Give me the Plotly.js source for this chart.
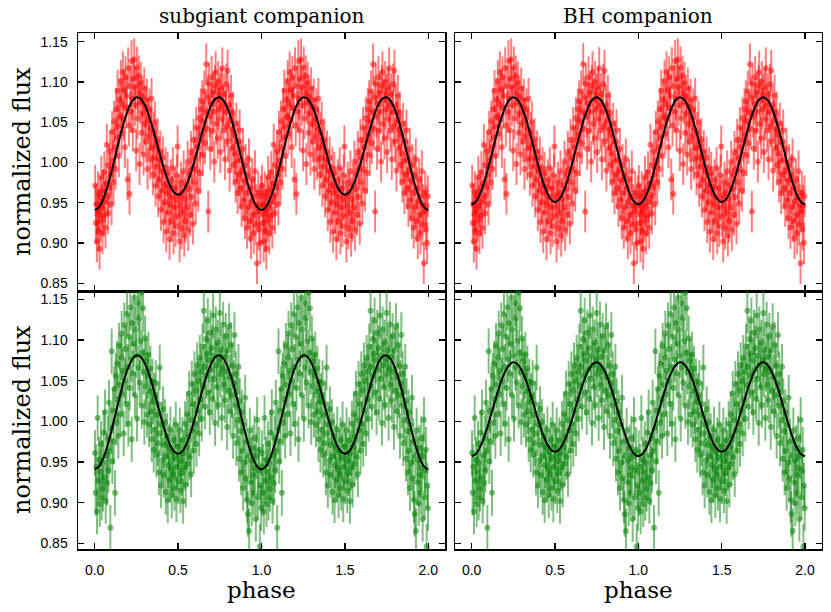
<!DOCTYPE html>
<html>
<head>
<meta charset="utf-8">
<script src="https://cdn.plot.ly/plotly-3.0.1.min.js"></script>
<style>
  html, body { margin: 0; padding: 0; background: #fff; }
  #graph { width: 831px; height: 612px; }
</style>
</head>
<body>
<div id="graph"></div>
<script>
// phase-folded light curves, one cycle (0..1), drawn twice (0..2)
const redPhase = [
  0.003,0.007,0.010,0.013,0.016,0.020,0.023,0.026,0.029,0.033,
  0.036,0.040,0.043,0.047,0.050,0.054,0.058,0.061,0.065,0.069,
  0.073,0.077,0.081,0.085,0.089,0.093,0.097,0.101,0.105,0.109,
  0.113,0.117,0.121,0.125,0.129,0.133,0.137,0.141,0.145,0.149,
  0.153,0.157,0.161,0.165,0.169,0.173,0.177,0.181,0.185,0.189,
  0.193,0.197,0.201,0.205,0.209,0.213,0.217,0.221,0.225,0.229,
  0.233,0.237,0.241,0.245,0.249,0.253,0.257,0.261,0.265,0.269,
  0.273,0.277,0.281,0.285,0.289,0.293,0.297,0.301,0.305,0.309,
  0.313,0.317,0.321,0.325,0.329,0.333,0.337,0.341,0.345,0.349,
  0.353,0.357,0.361,0.365,0.369,0.373,0.377,0.381,0.385,0.389,
  0.393,0.397,0.401,0.405,0.409,0.413,0.417,0.421,0.425,0.429,
  0.433,0.437,0.441,0.445,0.449,0.453,0.457,0.461,0.465,0.469,
  0.473,0.477,0.481,0.485,0.489,0.493,0.497,0.501,0.505,0.509,
  0.513,0.517,0.521,0.525,0.529,0.533,0.537,0.541,0.545,0.549,
  0.553,0.557,0.561,0.565,0.569,0.573,0.577,0.581,0.585,0.589,
  0.593,0.597,0.601,0.605,0.609,0.613,0.617,0.621,0.625,0.629,
  0.633,0.637,0.641,0.645,0.649,0.653,0.657,0.661,0.665,0.669,
  0.673,0.677,0.681,0.685,0.689,0.693,0.697,0.701,0.705,0.709,
  0.713,0.717,0.721,0.725,0.729,0.733,0.737,0.741,0.745,0.749,
  0.753,0.757,0.761,0.765,0.769,0.773,0.777,0.781,0.785,0.789,
  0.793,0.797,0.801,0.805,0.809,0.813,0.817,0.821,0.825,0.829,
  0.833,0.837,0.841,0.845,0.849,0.853,0.857,0.861,0.865,0.869,
  0.873,0.877,0.881,0.885,0.889,0.893,0.897,0.901,0.905,0.909,
  0.913,0.917,0.921,0.925,0.929,0.933,0.937,0.941,0.945,0.949,
  0.953,0.957,0.961,0.965,0.969,0.973,0.977,0.981,0.985,0.989,
  0.993,0.997
];
const redFlux = [
  0.971,0.925,0.948,0.902,0.936,0.963,0.915,0.941,0.893,0.957,
  0.928,0.982,0.946,0.912,0.965,0.934,0.988,0.951,0.919,0.974,
  1.022,0.958,0.937,0.996,0.969,1.014,0.985,0.948,1.038,1.002,
  0.975,1.051,1.019,0.992,1.066,1.031,1.089,1.045,1.008,1.078,
  1.057,1.101,1.036,1.072,1.112,1.053,1.090,1.019,1.106,1.068,
  1.083,0.979,1.117,1.046,0.961,1.095,1.063,1.126,1.079,1.040,
  1.104,1.128,1.071,1.093,1.015,1.118,1.055,1.086,1.107,0.998,
  1.074,1.099,1.037,1.082,1.061,1.010,1.092,1.048,1.069,1.026,
  1.078,0.992,1.054,1.033,1.066,1.004,1.041,1.079,1.018,0.985,
  1.037,1.006,1.050,0.971,1.021,0.995,1.029,0.958,1.003,0.978,
  1.014,0.941,0.989,0.965,1.006,0.926,0.972,0.951,0.993,0.914,
  0.962,0.987,0.938,0.969,0.905,0.948,0.978,0.927,0.957,0.993,
  0.912,0.944,0.968,0.921,0.953,0.984,1.020,0.933,0.959,0.902,
  0.946,0.975,0.918,0.962,0.938,0.989,0.909,0.955,0.927,0.972,
  0.944,1.001,0.916,0.967,0.985,0.935,1.013,0.957,0.992,0.924,
  1.028,0.976,1.006,0.949,1.043,0.991,1.019,0.965,1.055,1.027,
  0.987,1.066,1.035,1.076,1.009,1.051,1.088,1.024,1.062,1.122,
  1.042,1.081,0.939,1.098,1.057,1.017,1.073,1.106,1.039,1.087,
  1.063,1.001,1.095,1.112,1.048,1.078,1.030,1.100,1.066,1.084,
  1.013,1.092,1.054,1.117,1.071,1.040,1.085,1.004,1.063,1.097,
  1.045,1.114,1.026,1.071,0.990,1.052,1.083,1.018,1.041,1.062,
  0.997,1.034,1.011,0.976,1.048,1.002,0.962,1.026,0.985,1.040,
  0.968,1.003,0.946,0.989,1.017,0.953,0.978,0.931,0.997,0.962,
  0.919,0.984,0.945,1.004,0.927,0.968,0.906,0.952,0.979,0.935,
  0.912,0.958,0.989,0.923,0.947,0.875,0.939,0.963,0.917,0.946,
  0.900,0.958
];
const redErr = 0.026;

const greenPhase = [
  0.002,0.006,0.010,0.014,0.018,0.022,0.026,0.030,0.034,0.038,
  0.042,0.046,0.050,0.054,0.058,0.062,0.066,0.070,0.074,0.078,
  0.082,0.086,0.090,0.094,0.098,0.102,0.106,0.110,0.114,0.118,
  0.122,0.126,0.130,0.134,0.138,0.142,0.146,0.150,0.154,0.158,
  0.162,0.166,0.170,0.174,0.178,0.182,0.186,0.190,0.194,0.198,
  0.202,0.206,0.210,0.214,0.218,0.222,0.226,0.230,0.234,0.238,
  0.242,0.246,0.250,0.254,0.258,0.262,0.266,0.270,0.274,0.278,
  0.282,0.286,0.290,0.294,0.298,0.302,0.306,0.310,0.314,0.318,
  0.322,0.326,0.330,0.334,0.338,0.342,0.346,0.350,0.354,0.358,
  0.362,0.366,0.370,0.374,0.378,0.382,0.386,0.390,0.394,0.398,
  0.402,0.406,0.410,0.414,0.418,0.422,0.426,0.430,0.434,0.438,
  0.442,0.446,0.450,0.454,0.458,0.462,0.466,0.470,0.474,0.478,
  0.482,0.486,0.490,0.494,0.498,0.502,0.506,0.510,0.514,0.518,
  0.522,0.526,0.530,0.534,0.538,0.542,0.546,0.550,0.554,0.558,
  0.562,0.566,0.570,0.574,0.578,0.582,0.586,0.590,0.594,0.598,
  0.602,0.606,0.610,0.614,0.618,0.622,0.626,0.630,0.634,0.638,
  0.642,0.646,0.650,0.654,0.658,0.662,0.666,0.670,0.674,0.678,
  0.682,0.686,0.690,0.694,0.698,0.702,0.706,0.710,0.714,0.718,
  0.722,0.726,0.730,0.734,0.738,0.742,0.746,0.750,0.754,0.758,
  0.762,0.766,0.770,0.774,0.778,0.782,0.786,0.790,0.794,0.798,
  0.802,0.806,0.810,0.814,0.818,0.822,0.826,0.830,0.834,0.838,
  0.842,0.846,0.850,0.854,0.858,0.862,0.866,0.870,0.874,0.878,
  0.882,0.886,0.890,0.894,0.898,0.902,0.906,0.910,0.914,0.918,
  0.922,0.926,0.930,0.934,0.938,0.942,0.946,0.950,0.954,0.958,
  0.962,0.966,0.970,0.974,0.978,0.982,0.986,0.990,0.994,0.998
];
const greenFlux = [
  0.961,0.912,0.944,0.889,1.004,0.927,0.953,0.898,0.938,0.972,
  0.906,0.949,0.917,0.986,0.931,1.011,0.902,0.958,0.924,0.979,
  0.940,1.023,0.963,0.869,0.992,1.086,0.951,1.013,0.975,1.040,
  0.912,1.056,0.998,1.071,1.027,0.982,1.093,1.045,1.009,1.078,
  1.108,1.033,1.062,0.985,1.118,1.050,1.089,1.021,1.132,1.067,
  0.997,1.104,1.041,1.140,1.076,0.978,1.121,1.059,1.095,1.152,
  1.032,1.113,1.081,1.003,1.145,1.066,1.127,1.048,1.098,1.158,
  1.019,1.084,1.139,1.061,0.999,1.102,1.043,1.074,1.008,1.056,
  1.082,0.996,1.037,1.065,1.012,0.978,1.049,1.024,0.965,1.031,
  0.990,1.047,0.959,1.008,0.973,1.021,0.937,1.066,0.985,0.921,
  0.996,0.952,1.015,0.934,0.971,0.999,0.913,0.957,0.982,0.903,
  0.946,0.968,0.928,0.990,0.941,0.909,0.962,0.935,0.977,0.918,
  0.955,0.996,0.904,0.944,0.969,0.926,0.958,0.989,0.915,0.951,
  0.936,0.977,0.902,0.961,0.943,0.997,0.922,0.968,1.009,0.948,
  0.981,1.034,0.956,1.002,0.935,1.046,0.989,1.021,0.964,1.058,
  0.997,1.038,0.972,1.069,1.014,1.049,0.985,1.078,1.027,1.061,
  1.003,1.092,1.044,1.136,1.067,1.018,1.101,1.056,1.083,1.124,
  1.035,1.075,1.011,1.109,1.063,1.090,1.028,1.130,1.052,1.081,
  0.998,1.113,1.069,1.042,1.097,1.020,1.076,1.133,1.058,1.088,
  1.004,1.065,1.119,1.045,1.079,1.026,1.105,1.061,0.993,1.087,
  1.038,1.117,1.054,1.012,1.094,1.032,1.068,0.982,1.047,1.106,
  1.019,1.058,0.973,1.036,1.002,1.067,0.954,1.025,0.988,0.937,
  1.011,0.964,0.918,0.996,0.949,1.029,0.930,0.975,0.903,0.886,
  0.958,0.865,0.989,0.925,0.952,0.899,0.967,0.934,0.912,0.979,
  0.943,0.880,0.957,1.002,0.907,0.939,0.965,0.846,0.921,0.893
];
const greenErr = 0.028;

// model light curves, one cycle
const modelPhase = [
  0.000,0.025,0.050,0.075,0.100,0.125,0.150,0.175,0.200,0.225,
  0.250,0.275,0.300,0.325,0.350,0.375,0.400,0.425,0.450,0.475,
  0.500,0.525,0.550,0.575,0.600,0.625,0.650,0.675,0.700,0.725,
  0.750,0.775,0.800,0.825,0.850,0.875,0.900,0.925,0.950,0.975,1.000
];
const subgiantModel = [
  0.9410,0.9443,0.9539,0.9689,0.9879,1.0090,1.0303,1.0498,1.0656,1.0763,
  1.0810,1.0793,1.0715,1.0584,1.0415,1.0225,1.0033,0.9859,0.9720,0.9631,
  0.9600,0.9631,0.9720,0.9859,1.0033,1.0225,1.0415,1.0584,1.0715,1.0793,
  1.0810,1.0763,1.0656,1.0498,1.0303,1.0090,0.9879,0.9689,0.9539,0.9443,0.9410
];
const bhModelRed = [
  0.9480,0.9512,0.9606,0.9753,0.9937,1.0142,1.0347,1.0532,1.0680,1.0776,
  1.0810,1.0780,1.0689,1.0546,1.0365,1.0163,0.9961,0.9779,0.9635,0.9542,
  0.9510,0.9542,0.9635,0.9779,0.9961,1.0163,1.0365,1.0546,1.0689,1.0780,
  1.0810,1.0776,1.0680,1.0532,1.0347,1.0142,0.9937,0.9753,0.9606,0.9512,0.9480
];
const bhModelGreen = [
  0.9570,0.9598,0.9679,0.9805,0.9965,1.0142,1.0319,1.0480,1.0609,1.0693,
  1.0725,1.0702,1.0626,1.0505,1.0352,1.0181,1.0010,0.9855,0.9732,0.9653,
  0.9626,0.9653,0.9732,0.9855,1.0010,1.0181,1.0352,1.0505,1.0626,1.0702,
  1.0725,1.0693,1.0609,1.0480,1.0319,1.0142,0.9965,0.9805,0.9679,0.9598,0.9570
];

const xTicks = [0, 0.5, 1, 1.5, 2];
const yTicks = [0.85, 0.90, 0.95, 1.00, 1.05, 1.10, 1.15];

// fold twice: phase 0..1 and again shifted to 1..2
function twice(phase) {
  return phase.concat(phase.map(p => p + 1));
}

function points(phase, flux, err, color, n) {
  return {
    x: twice(phase),
    y: flux.concat(flux),
    xaxis: 'x' + n, yaxis: 'y' + n,
    type: 'scatter', mode: 'markers',
    marker: { size: 6, color: color },
    error_y: { type: 'constant', value: err, color: color, thickness: 2, width: 0 },
    hoverinfo: 'skip'
  };
}

function model(curve, n) {
  return {
    x: twice(modelPhase.slice(0, -1)).concat([2]),
    y: curve.slice(0, -1).concat(curve.slice(0, -1), [curve[curve.length - 1]]),
    xaxis: 'x' + n, yaxis: 'y' + n,
    type: 'scatter', mode: 'lines',
    line: { color: '#000', width: 2, shape: 'spline', smoothing: 1 },
    hoverinfo: 'skip'
  };
}

const red = 'rgba(255,0,0,0.5)';
const green = 'rgba(0,128,0,0.5)';

const data = [
  points(redPhase, redFlux, redErr, red, ''),
  model(subgiantModel, ''),
  points(redPhase, redFlux, redErr, red, 2),
  model(bhModelRed, 2),
  points(greenPhase, greenFlux, greenErr, green, 3),
  model(subgiantModel, 3),
  points(greenPhase, greenFlux, greenErr, green, 4),
  model(bhModelGreen, 4)
];

const W = 831, H = 612;
const px = v => v / W;
const py = v => 1 - v / H;

const tickFont = { family: 'Liberation Sans, Arial, sans-serif', size: 14, color: '#000' };
const serif = 'DejaVu Serif, serif';

function xAxis(domain, anchor, labels) {
  return {
    domain: domain, anchor: anchor, range: [-0.1, 2.1],
    tickvals: xTicks, tickformat: '.1f', showticklabels: labels,
    ticks: 'inside', ticklen: 6, tickwidth: 1.2, tickcolor: '#000',
    showline: true, linewidth: 1.5, linecolor: '#000', mirror: 'allticks',
    showgrid: false, zeroline: false, tickfont: tickFont, ticklabelstandoff: 7
  };
}
function yAxis(domain, anchor, range, labels) {
  return {
    domain: domain, anchor: anchor, range: range,
    tickvals: yTicks, tickformat: '.2f', showticklabels: labels,
    ticks: 'inside', ticklen: 6, tickwidth: 1.2, tickcolor: '#000',
    showline: true, linewidth: 1.5, linecolor: '#000', mirror: 'allticks',
    showgrid: false, zeroline: false, tickfont: tickFont, ticklabelstandoff: 6
  };
}

const leftDom = [px(78), px(445)];
const rightDom = [px(455), px(821.7)];
const topDom = [py(291), py(33)];
const botDom = [py(549.3), py(291)];

const layout = {
  width: W, height: H,
  margin: { l: 0, r: 0, t: 0, b: 0 },
  paper_bgcolor: '#fff', plot_bgcolor: '#fff',
  showlegend: false,
  xaxis: xAxis(leftDom, 'y', false),
  yaxis: yAxis(topDom, 'x', [0.8404, 1.1608], true),
  xaxis2: xAxis(rightDom, 'y2', false),
  yaxis2: yAxis(topDom, 'x2', [0.8404, 1.1608], false),
  xaxis3: xAxis(leftDom, 'y3', true),
  yaxis3: yAxis(botDom, 'x3', [0.8426, 1.1602], true),
  xaxis4: xAxis(rightDom, 'y4', true),
  yaxis4: yAxis(botDom, 'x4', [0.8426, 1.1602], false),
  annotations: [
    { text: 'subgiant companion', xref: 'paper', yref: 'paper', x: px(261.5), y: py(30),
      xanchor: 'center', yanchor: 'bottom', showarrow: false, font: { family: serif, size: 20, color: '#000' } },
    { text: 'BH companion', xref: 'paper', yref: 'paper', x: px(638.4), y: py(30),
      xanchor: 'center', yanchor: 'bottom', showarrow: false, font: { family: serif, size: 20, color: '#000' } },
    { text: 'normalized flux', xref: 'paper', yref: 'paper', x: px(22), y: py(162),
      xanchor: 'center', yanchor: 'middle', textangle: -90, showarrow: false, font: { family: serif, size: 24, color: '#000' } },
    { text: 'normalized flux', xref: 'paper', yref: 'paper', x: px(22), y: py(420),
      xanchor: 'center', yanchor: 'middle', textangle: -90, showarrow: false, font: { family: serif, size: 24, color: '#000' } },
    { text: 'phase', xref: 'paper', yref: 'paper', x: px(261.5), y: py(590),
      xanchor: 'center', yanchor: 'middle', showarrow: false, font: { family: serif, size: 23, color: '#000' } },
    { text: 'phase', xref: 'paper', yref: 'paper', x: px(638.4), y: py(590),
      xanchor: 'center', yanchor: 'middle', showarrow: false, font: { family: serif, size: 23, color: '#000' } }
  ]
};

Plotly.newPlot('graph', data, layout, { displayModeBar: false, staticPlot: true });
</script>
</body>
</html>
